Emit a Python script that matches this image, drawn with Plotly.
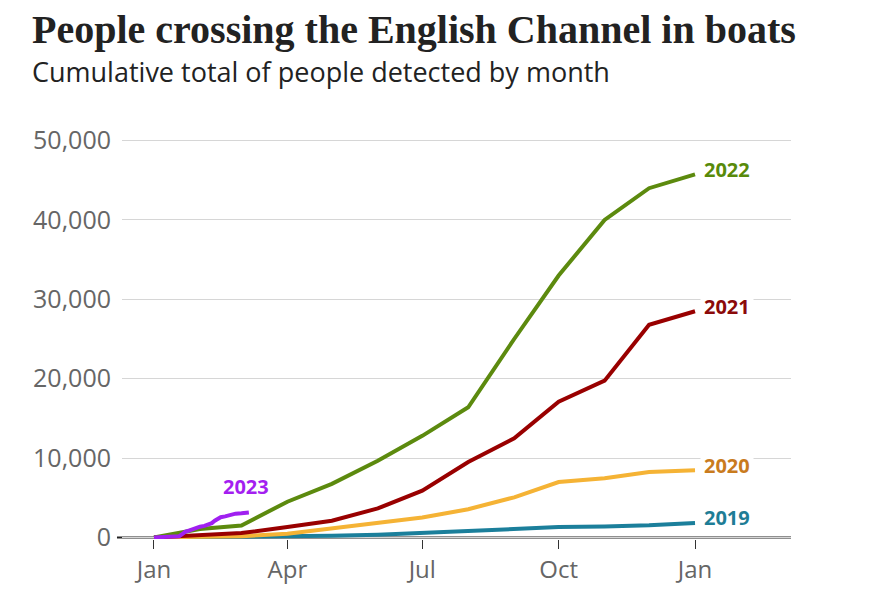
import plotly.graph_objects as go

# ---- data ----
month_dates = ["2022-01-01", "2022-02-01", "2022-03-01", "2022-04-01", "2022-05-01",
               "2022-06-01", "2022-07-01", "2022-08-01", "2022-09-01", "2022-10-01",
               "2022-11-01", "2022-12-01", "2023-01-01"]
y2019 = [0, 20, 50, 100, 200, 330, 550, 800, 1100, 1300, 1380, 1520, 1830]
y2020 = [0, 50, 150, 450, 1150, 1850, 2500, 3550, 5050, 6980, 7450, 8250, 8460]
y2021 = [0, 250, 550, 1300, 2100, 3650, 5900, 9500, 12500, 17100, 19750, 26800, 28500]
y2022 = [0, 1050, 1500, 4500, 6750, 9650, 12800, 16400, 25000, 33000, 40000, 44000, 45750]

dates2023 = ["2022-01-01", "2022-01-10", "2022-01-18", "2022-01-20", "2022-01-22",
             "2022-01-25", "2022-01-27", "2022-02-01", "2022-02-04", "2022-02-06",
             "2022-02-09", "2022-02-11", "2022-02-13", "2022-02-15", "2022-02-18",
             "2022-02-20", "2022-02-23", "2022-02-25", "2022-03-01", "2022-03-06"]
y2023 = [0, 40, 150, 400, 700, 900, 1050, 1350, 1450, 1550, 1800, 2100, 2350, 2550,
         2650, 2780, 2850, 2990, 3050, 3150]

tick_vals = ["2022-01-01", "2022-04-01", "2022-07-01", "2022-10-01", "2023-01-01"]
tick_text = ["Jan", "Apr", "Jul", "Oct", "Jan"]
y_ticks = [0, 10000, 20000, 30000, 40000, 50000]

series = [
    ("2019", y2019, "#1b7f9b", "#1e7d96"),
    ("2020", y2020, "#f5b335", "#c97b1e"),
    ("2021", y2021, "#990000", "#8b0a0a"),
    ("2022", y2022, "#5c8a0e", "#588a0a"),
]

fig = go.Figure()
for name, ys, lc, tc in series:
    fig.add_trace(go.Scatter(x=month_dates, y=ys, mode="lines", name=name,
                             line=dict(color=lc, width=4), hoverinfo="skip"))
    fig.add_annotation(x=month_dates[-1], y=ys[-1], text="<b>%s</b>" % name,
                       xanchor="left", yanchor="middle", xshift=5, yshift=5,
                       showarrow=False, bgcolor="white", borderpad=3,
                       font=dict(family="Open Sans", size=20, color=tc))

fig.add_trace(go.Scatter(x=dates2023, y=y2023, mode="lines", name="2023",
                         line=dict(color="#a020f0", width=4), hoverinfo="skip"))
fig.add_annotation(x=dates2023[-1], y=y2023[-1], text="<b>2023</b>",
                   xanchor="center", yanchor="middle", xshift=-3, yshift=26,
                   showarrow=False,
                   font=dict(family="Open Sans", size=20, color="#a41ff0"))

# baseline
fig.add_shape(type="line", xref="paper", yref="y", x0=-0.0075, x1=1, y0=0, y1=0,
              line=dict(color="#222222", width=2), layer="between")

# title and subtitle
fig.add_annotation(xref="paper", yref="paper", x=(30 - 122) / 669, y=(538.6 - 30) / 399.2,
                   xanchor="left", yanchor="middle", showarrow=False,
                   text="<b>People crossing the English Channel in boats</b>",
                   font=dict(family="Liberation Serif", size=40, color="#222222"))
fig.add_annotation(xref="paper", yref="paper", x=(30 - 122) / 669, y=(538.6 - 72) / 399.2,
                   xanchor="left", yanchor="middle", showarrow=False,
                   text="Cumulative total of people detected by month",
                   font=dict(family="Open Sans", size=27, color="#222222"))

fig.update_layout(
    width=869, height=590,
    margin=dict(l=122, r=78, t=139.4, b=590 - 538.6),
    paper_bgcolor="white", plot_bgcolor="white",
    showlegend=False,
    font=dict(family="Open Sans", color="#666666"),
    xaxis=dict(type="date", range=["2021-12-10 10:00", "2023-03-06 18:00"],
               tickvals=tick_vals, ticktext=tick_text, ticks="outside", ticklen=9,
               tickcolor="#333333", tickwidth=1, showgrid=False, showline=False,
               zeroline=False, automargin=False,
               tickfont=dict(size=24, color="#666666")),
    yaxis=dict(range=[-200, 50200], tickvals=y_ticks, tickformat=",d",
               showgrid=True, gridcolor="#d6d6d6", gridwidth=1, zeroline=False,
               showline=False, ticks="", ticklabelstandoff=10, automargin=False,
               tickfont=dict(size=25, color="#666666")),
)

fig.write_html("out.html")
